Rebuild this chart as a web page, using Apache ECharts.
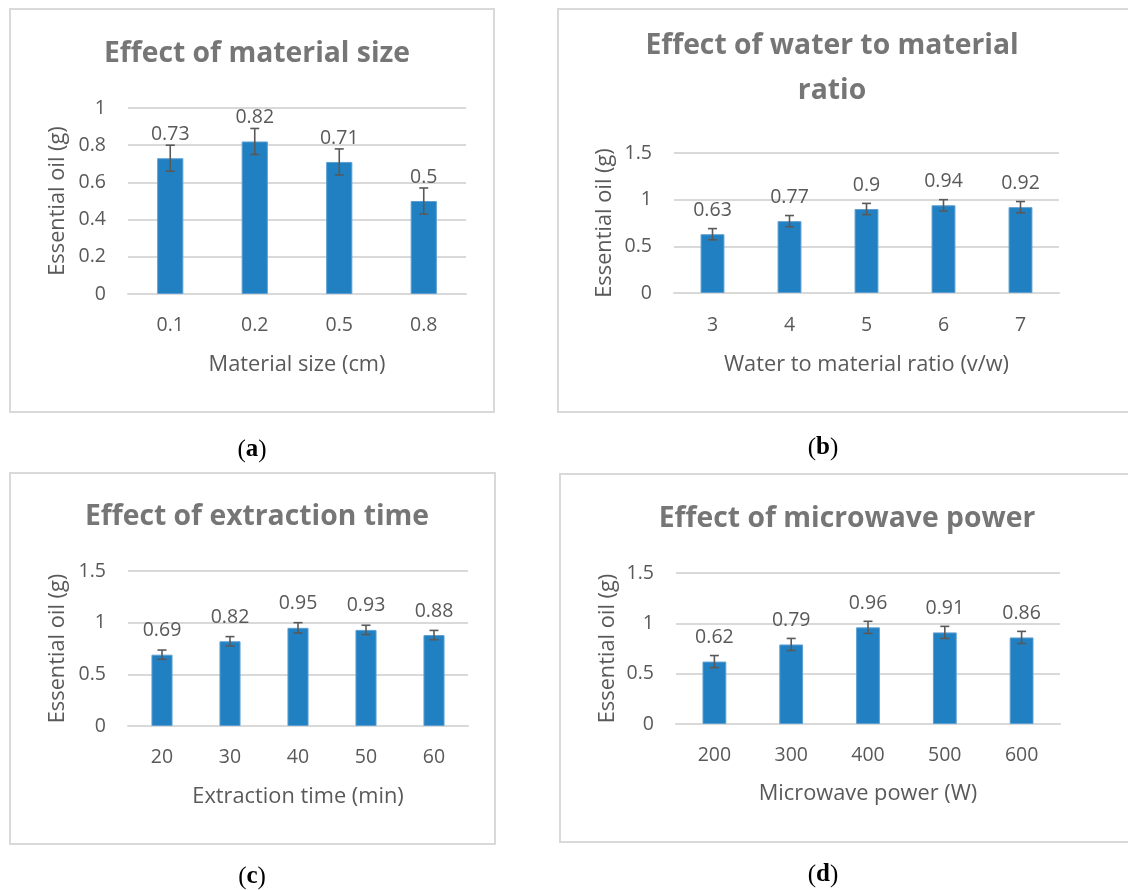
<!DOCTYPE html>
<html>
<head>
<meta charset="utf-8">
<script src="https://cdn.jsdelivr.net/npm/echarts@6/dist/echarts.min.js"></script>
<style>
html,body{margin:0;padding:0;background:#fff;}
#chart{width:1128px;height:890px;}
</style>
</head>
<body>
<div id="chart"></div>
<script>
// ---- data ----
const catsA = ['0.1', '0.2', '0.5', '0.8'];
const valsA = [0.73, 0.82, 0.71, 0.5];
const errA = [0.07, 0.07, 0.07, 0.07];

const catsB = ['3', '4', '5', '6', '7'];
const valsB = [0.63, 0.77, 0.9, 0.94, 0.92];
const errB = [0.06, 0.06, 0.06, 0.06, 0.06];

const catsC = ['20', '30', '40', '50', '60'];
const valsC = [0.69, 0.82, 0.95, 0.93, 0.88];
const errC = [0.045, 0.045, 0.05, 0.045, 0.045];

const catsD = ['200', '300', '400', '500', '600'];
const valsD = [0.62, 0.79, 0.96, 0.91, 0.86];
const errD = [0.06, 0.06, 0.06, 0.06, 0.06];

const titles = ['Effect of material size', 'Effect of water to material\nratio', 'Effect of extraction time', 'Effect of microwave power'];
const xNames = ['Material size (cm)', 'Water to material ratio (v/w)', 'Extraction time (min)', 'Microwave power (W)'];
const yName = 'Essential oil (g)';
const panelLetters = ['a', 'b', 'c', 'd'];
const yMax = [1, 1.5, 1.5, 1.5];
const yInterval = [0.2, 0.5, 0.5, 0.5];

// ---- layout / style ----
const FONT = 'Open Sans';
const LABEL_COLOR = '#595959';
const TITLE_COLOR = '#767676';
const BAR_COLOR = '#2180c1';
const GRID_COLOR = '#d9d9d9';
const TICK_SIZE = 19.5;
const NAME_SIZE = 21.8;

const grids = [
  {left: 128, top: 108, width: 338, height: 186},
  {left: 674, top: 153, width: 385, height: 140},
  {left: 128, top: 571, width: 340, height: 155},
  {left: 676, top: 573, width: 384, height: 151}
];
const yNameGap = [59, 58, 59, 57];
const xNameGap = [60, 61, 60, 59];
const xLabelMargin = [21, 22, 21, 21];
const titlePos = [
  {x: 252, top: 31},
  {x: 827, top: 18},
  {x: 252, top: 494},
  {x: 842, top: 496}
];
const boxes = [
  {x: 10, y: 9, w: 484, h: 403},
  {x: 558, y: 9, w: 600, h: 403},
  {x: 10, y: 473, w: 485, h: 371},
  {x: 560, y: 474, w: 600, h: 368}
];
const letterPos = [
  {x: 252, y: 450}, {x: 823, y: 448}, {x: 252, y: 877}, {x: 823, y: 875}
];

const catsAll = [catsA, catsB, catsC, catsD];
const valsAll = [valsA, valsB, valsC, valsD];
const errAll = [errA, errB, errC, errD];

const option = {
  animation: false,
  backgroundColor: '#ffffff',
  title: [],
  grid: [],
  xAxis: [],
  yAxis: [],
  series: [],
  graphic: []
};

for (let i = 0; i < 4; i++) {
  const b = boxes[i];
  option.graphic.push({
    type: 'rect', z: -10,
    shape: {x: b.x, y: b.y, width: b.w, height: b.h},
    style: {fill: '#fff', stroke: GRID_COLOR, lineWidth: 2}
  });
  option.graphic.push({
    type: 'text', z: 10,
    x: letterPos[i].x, y: letterPos[i].y,
    style: {
      text: '{p|(}{l|' + panelLetters[i] + '}{p|)}',
      align: 'center', verticalAlign: 'middle',
      rich: {
        p: {fontFamily: 'Liberation Serif', fontSize: 25, fill: '#000'},
        l: {fontFamily: 'Liberation Serif', fontSize: 25, fontWeight: 'bold', fill: '#000'}
      }
    }
  });
  option.title.push({
    text: titles[i],
    left: titlePos[i].x, top: titlePos[i].top,
    textAlign: 'center',
    textStyle: {fontFamily: FONT, fontWeight: 'bold', fontSize: 28.3, color: TITLE_COLOR, lineHeight: i === 1 ? 45 : 36}
  });
  option.grid.push(Object.assign({containLabel: false}, grids[i]));
  option.xAxis.push({
    type: 'category', gridIndex: i, data: catsAll[i],
    name: xNames[i], nameLocation: 'middle', nameGap: xNameGap[i],
    nameTextStyle: {fontFamily: FONT, fontSize: NAME_SIZE, color: LABEL_COLOR},
    axisLine: {lineStyle: {color: GRID_COLOR, width: 2}},
    axisTick: {show: false},
    axisLabel: {fontFamily: FONT, fontSize: TICK_SIZE, color: LABEL_COLOR, margin: xLabelMargin[i]}
  });
  option.yAxis.push({
    type: 'value', gridIndex: i, min: 0, max: yMax[i], interval: yInterval[i],
    name: yName, nameLocation: 'middle', nameGap: yNameGap[i], nameRotate: 90,
    nameTextStyle: {fontFamily: FONT, fontSize: NAME_SIZE, color: LABEL_COLOR},
    axisLine: {show: false}, axisTick: {show: false},
    splitLine: {lineStyle: {color: GRID_COLOR, width: 2}},
    axisLabel: {fontFamily: FONT, fontSize: TICK_SIZE, color: LABEL_COLOR, margin: 22}
  });
  option.series.push({
    type: 'bar', xAxisIndex: i, yAxisIndex: i,
    data: valsAll[i], barWidth: '31%',
    itemStyle: {color: BAR_COLOR, borderColor: '#5d9fd3', borderWidth: 1},
    label: {show: true, position: 'top', distance: 14, fontFamily: FONT, fontSize: TICK_SIZE, color: LABEL_COLOR},
    z: 2
  });
  const errData = valsAll[i].map((v, k) => [k, v - errAll[i][k], v + errAll[i][k]]);
  option.series.push({
    type: 'custom', xAxisIndex: i, yAxisIndex: i, z: 5,
    data: errData,
    renderItem: function (params, api) {
      const x = api.value(0);
      const lo = api.coord([x, api.value(1)]);
      const hi = api.coord([x, api.value(2)]);
      const hw = 4.5;
      const st = {stroke: '#595959', lineWidth: 1.6};
      return {
        type: 'group',
        children: [
          {type: 'line', shape: {x1: hi[0], y1: hi[1], x2: lo[0], y2: lo[1]}, style: st},
          {type: 'line', shape: {x1: hi[0] - hw, y1: hi[1], x2: hi[0] + hw, y2: hi[1]}, style: st},
          {type: 'line', shape: {x1: lo[0] - hw, y1: lo[1], x2: lo[0] + hw, y2: lo[1]}, style: st}
        ]
      };
    }
  });
}

const chart = echarts.init(document.getElementById('chart'), null, {renderer: 'canvas'});
chart.setOption(option);
</script>
</body>
</html>
